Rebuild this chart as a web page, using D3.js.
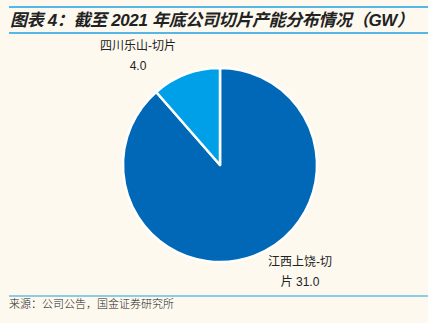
<!DOCTYPE html>
<html><head><meta charset="utf-8">
<script src="https://cdn.jsdelivr.net/npm/d3@7"></script>
<style>html,body{margin:0;padding:0;background:#fdf9ef;}svg{display:block;}</style>
</head><body>
<svg id="c" width="428" height="323"></svg>
<script>
const categories = ["江西上饶-切片", "四川乐山-切片"];
const values = [31.0, 4.0];
const colors = ["#0068b7", "#00a0e9"];
const title = "图表 4：截至 2021 年底公司切片产能分布情况（GW）";
const source = "来源：公司公告，国金证券研究所";

const svg = d3.select("#c");
svg.append("rect").attr("width",428).attr("height",323).attr("fill","#fdf9ef");
svg.append("line").attr("x1",9).attr("x2",428).attr("y1",7).attr("y2",7).attr("stroke","#1ba1e2").attr("stroke-width",1.5);
svg.append("line").attr("x1",9).attr("x2",428).attr("y1",33).attr("y2",33).attr("stroke","#1ba1e2").attr("stroke-width",1.5);
svg.append("text").attr("x",10).attr("y",26).text(title)
  .attr("font-family","'Liberation Sans', 'Noto Sans CJK SC', sans-serif").attr("font-size",17).attr("font-weight","bold").attr("font-style","italic").attr("fill","#222")
  .attr("textLength",404).attr("lengthAdjust","spacing");
svg.append("line").attr("x1",9).attr("x2",428).attr("y1",296).attr("y2",296).attr("stroke","#1ba1e2").attr("stroke-width",1);
svg.append("text").attr("x",9).attr("y",308).text(source)
  .attr("font-family","'Noto Sans CJK SC', serif").attr("font-size",11).attr("font-weight",300).attr("fill","#222");

const cx = 220, cy = 165, r = 97;
const pie = d3.pie().sort(null).value(d=>d.v);
const arcs = pie(categories.map((c,i)=>({c, v: values[i], col: colors[i]})));
const arc = d3.arc().innerRadius(0).outerRadius(r);
const g = svg.append("g").attr("transform",`translate(${cx},${cy})`);
g.selectAll("path").data(arcs).join("path").attr("d",arc).attr("fill",d=>d.data.col)
  .attr("stroke","#fff").attr("stroke-width",2.5).attr("stroke-linejoin","round");

const font = "'Liberation Sans', 'Noto Sans CJK SC', sans-serif";
const lab = [
  {lines:["江西上饶-切", "片 31.0"], x:300, y:[266, 286]},
  {lines:["四川乐山-切片", "4.0"], x:138, y:[50, 70]}
];
lab.forEach(l=>{
  l.lines.forEach((t,i)=>{
    svg.append("text").attr("x",l.x).attr("y",l.y[i]).attr("text-anchor","middle").text(t)
      .attr("font-family",font).attr("font-size",12).attr("fill","#222");
  });
});
</script>
</body></html>
